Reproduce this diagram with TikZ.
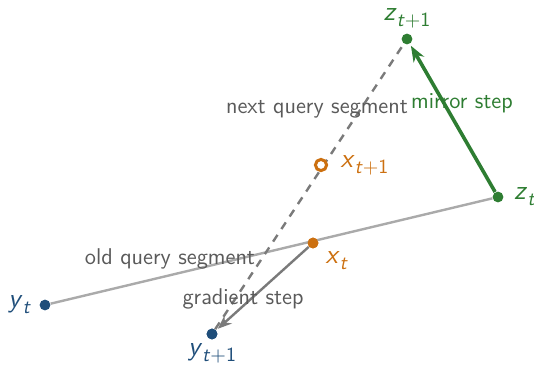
\documentclass[tikz,border=0pt]{standalone}
\usepackage{tikz}
\usetikzlibrary{positioning,arrows.meta}
\definecolor{pblue}{HTML}{1F4E7A}
\definecolor{porange}{HTML}{CC7010}
\definecolor{pgreen}{HTML}{2E7D32}
\definecolor{pline}{HTML}{AAAAAA}
\definecolor{pdash}{HTML}{7A7A7A}
\definecolor{ptext}{HTML}{5A5A5A}
% point name with a sans subscript
\newcommand{\vlab}[2]{\textit{#1}\raisebox{-0.22em}{\fontsize{10}{12}\selectfont #2}}
\tikzset{
  pt/.style   = {circle, inner sep=0pt, minimum size=5.4pt},
  by/.style   = {pt, fill=pblue},
  bx/.style   = {pt, fill=porange},
  bz/.style   = {pt, fill=pgreen},
  ox/.style   = {circle, inner sep=0pt, minimum size=5.6pt, draw=porange, line width=1.5pt, fill=white},
  lb/.style   = {font=\sffamily\fontsize{13.5}{15}\selectfont, inner sep=1pt},
  tl/.style   = {font=\sffamily\fontsize{11.4}{13}\selectfont, text=ptext, inner sep=1pt},
  seg/.style  = {draw=pline, line width=1.2pt},
  nseg/.style = {draw=pdash, line width=1.2pt, dash pattern=on 4pt off 3.5pt},
  gstep/.style= {-{Stealth[length=7pt,width=5.5pt]}, draw=pdash, line width=1.2pt, shorten >=1pt},
  mstep/.style= {-{Stealth[length=8pt,width=6pt]}, draw=pgreen, line width=1.8pt, shorten >=1pt},
}
\begin{document}
\begin{tikzpicture}[x=0.5pt, y=-0.5pt]
\useasboundingbox (0,0) rectangle (534,365);

% ---- points
\node[by] (yt)  at (45,305)  {};
\node[by] (yt1) at (212,334) {};
\node[bx] (xt)  at (313,243) {};
\node[bz] (zt)  at (498,197) {};
\node[bz] (zt1) at (407,39)  {};

% ---- segments
\draw[seg]  (yt) -- (zt);
\draw[nseg] (yt1) -- (zt1);
\node[ox] (xt1) at (321,165) {};

% ---- steps
\draw[gstep] (xt) -- (yt1);
\draw[mstep] (zt) -- (zt1);
\node[bx] at (xt) {};
\node[by] at (yt1) {};

% ---- labels
\node[lb, text=pblue,   left=3pt of yt]   {\vlab{y}{\textit{t}}};
\node[lb, text=pblue,   below=0.5pt of yt1] {\vlab{y}{\textit{t}+1}};
\node[lb, text=porange, below right=1pt and 3pt of xt] {\vlab{x}{\textit{t}}};
\node[lb, text=porange, right=5pt of xt1] {\vlab{x}{\textit{t}+1}};
\node[lb, text=pgreen,  right=4pt of zt]  {\vlab{z}{\textit{t}}};
\node[lb, text=pgreen,  above=1.5pt of zt1] {\vlab{z}{\textit{t}+1}};

% ---- segment and step names
\node[tl] (oldq)  at (170,259) {old query segment};
\node[tl] (nextq) at (317,109) {next query segment};
\node[tl] (grad)  at (243,299) {gradient step};
\node[tl, text=pgreen] (mirr) at (462,103) {mirror step};

\end{tikzpicture}
\end{document}
